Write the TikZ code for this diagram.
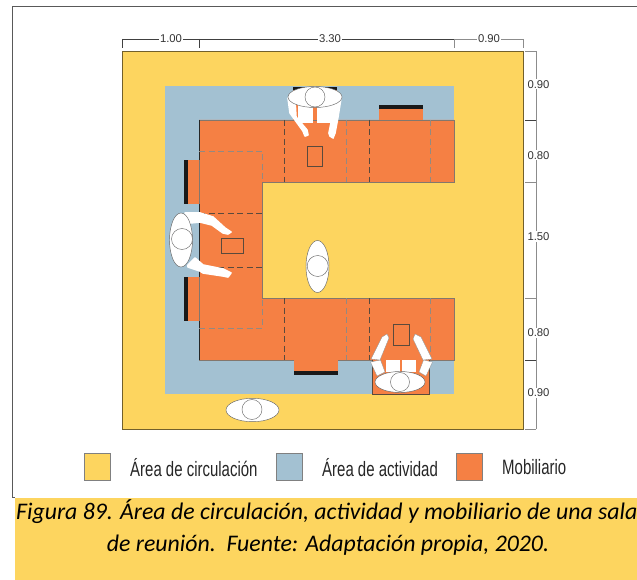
\documentclass[tikz,border=0pt]{standalone}
\usepackage{fontspec}
\setmainfont{Liberation Sans}
\newfontfamily\condfont[FakeStretch=0.72]{Liberation Sans}
\newfontfamily\capfont{Carlito}
\definecolor{circ}{HTML}{FDD55F}
\definecolor{act}{HTML}{A3C1D2}
\definecolor{mob}{HTML}{F58044}
\definecolor{edge}{HTML}{5A4A3C}
\tikzset{
  dim/.style={draw=black!75,line width=0.6pt},
  dimsoft/.style={draw=black!45,line width=0.7pt},
  dimlabel/.style={fill=white,inner sep=1pt,font=\fontsize{11.3}{13}\selectfont,text=black!80},
  divider/.style={draw=edge,line width=0.8pt,dash pattern=on 6pt off 3.5pt},
  softdiv/.style={draw=edge!65,line width=0.8pt,dash pattern=on 6pt off 3.5pt},
  tablet/.style={draw=edge,line width=0.6pt},
  blackbar/.style={fill=black!90,draw=none},
  person/.style={fill=white,draw=black!60,line width=0.45pt},
  limb/.style={fill=white,draw=white,line width=1.6pt,line join=round},
  limbline/.style={fill=white,draw=black!45,line width=0.3pt,line join=round},
  swatch/.style={draw=black!50,line width=0.6pt},
  legendtext/.style={anchor=west,inner sep=0pt,font=\condfont\fontsize{20.8}{24}\selectfont,text=black!85},
  captext/.style={inner sep=0pt,font=\capfont\itshape\fontsize{23.8}{28}\selectfont,text=black}
}
\begin{document}
\begin{tikzpicture}[x=1pt,y=-1pt]
\useasboundingbox (0,0) rectangle (637,580);
\fill[white] (0,0) rectangle (637,580);
% frame
\draw[black!65,line width=0.7pt] (637,6) -- (12,6) -- (12,497) -- (15,497);
% caption band
\fill[circ] (15,498) rectangle (637,580);
% areas
\path[fill=circ,draw=black!55!circ,line width=0.9pt] (122,51) rectangle (523,429);
\fill[act] (165,86) rectangle (454,394);
\fill[circ] (262,182) rectangle (454,298);
% furniture
\path[fill=mob,draw=edge!75,line width=0.7pt] (199,120) -- (454,120) -- (454,182) -- (262,182) -- (262,298) -- (454,298) -- (454,360) -- (199,360) -- cycle;
\draw[black!85,line width=0.7pt] (199,120) -- (199,160) (199,204) -- (199,277) (199,321) -- (199,360);
% stools
\fill[mob] (184,160) rectangle (199.4,204);
\fill[blackbar] (184,160) rectangle (188,204);
\fill[mob] (184,277) rectangle (199.4,321);
\fill[blackbar] (184,277) rectangle (188,321);
\fill[mob] (379,105) rectangle (423,120.4);
\fill[blackbar] (379,105) rectangle (423,109);
\fill[mob] (294,359.6) rectangle (338,375);
\fill[blackbar] (294,371) rectangle (338,375);
\fill[mob] (293,87) rectangle (337,120.4);
\fill[blackbar] (293,87) rectangle (337,90);
\fill[mob] (372,360) rectangle (429,394);
\draw[edge,line width=0.6pt] (372,360) -- (372,394) -- (429,394) -- (429,360);
% dividers
\draw[softdiv] (199,151) -- (262,151) -- (262,182);
\draw[divider] (199,213) -- (262,213);
\draw[divider] (199,267) -- (262,267);
\draw[softdiv] (199,328) -- (262,328) -- (262,298);
\foreach \xx/\yy in {284/120,369/120,284/298,369/298}
  \draw[divider] (\xx,\yy) -- (\xx,\yy+62);
\foreach \xx/\yy in {346/120,430/120,346/298,430/298}
  \draw[softdiv] (\xx,\yy) -- (\xx,\yy+62);
% tablets
\draw[tablet] (307,146) rectangle (322,166);
\draw[tablet] (221,238) rectangle (243,253);
\draw[tablet] (393,324) rectangle (409,345);
% top seated person
\fill[white] (298,105) rectangle (313,123);
\fill[white] (317,105) rectangle (332,123);
\path[limb] (288,98) -- (290,113) -- (303,131) -- (305,136) -- (308,135) -- (307,130) -- (296,117) -- (295,100) -- cycle;
\path[limb] (341,98) -- (338,117) -- (335,133) -- (333,138) -- (330,136) -- (329,133) -- (332,118) -- (333,100) -- cycle;
\draw[person] (315,97) ellipse [x radius=27,y radius=10.5];
\draw[person] (315,97) circle [radius=10];
% left seated person
\path[limb] (185,213) -- (200,213) -- (213,217) -- (225,228) -- (231,232) -- (228,234) -- (223,233) -- (212,225) -- (200,222) -- (190,223) -- cycle;
\path[limb] (188,265) -- (195,258) -- (203,265) -- (223,269) -- (231,273) -- (228,277) -- (223,276) -- (203,273) -- (200,271) -- (188,267) -- cycle;
\draw[person] (181,240) ellipse [x radius=11.5,y radius=27];
\draw[person] (182,239) circle [radius=10.5];
% bottom seated person
\fill[white] (386,360) rectangle (400,372);
\fill[white] (402,360) rectangle (416,372);
\path[limbline] (370.5,362) -- (377,376) -- (385,372) -- (380.5,360) -- cycle;
\path[limbline] (432.5,362) -- (426,376) -- (419,372) -- (423.5,360) -- cycle;
\path[limbline] (371,359) -- (382,337) -- (387,334) -- (389,338) -- (380,360) -- cycle;
\path[limbline] (432,359) -- (421,337) -- (415,334) -- (413,339) -- (423,360) -- cycle;
\draw[person] (400,382) ellipse [x radius=25,y radius=10.5];
\draw[person] (400,382) circle [radius=9.5];
% standing persons
\draw[person] (317.5,266.5) ellipse [x radius=11.5,y radius=26];
\draw[person] (317.7,266) circle [radius=10.5];
\draw[person] (252.5,410) ellipse [x radius=26.5,y radius=11.7];
\draw[person] (252,409.5) circle [radius=10];
% top dimensions
\coordinate (t0) at (122,39); \coordinate (t1) at (199,39);
\coordinate (t2) at (454,39); \coordinate (t3) at (523,39);
\draw[dim] (t0) -- (t2);
\draw[dimsoft] (t2) -- (t3);
\foreach \p in {t0,t1} \draw[dim] (\p) -- ++(0,9);
\foreach \p in {t2,t3} \draw[dimsoft] (\p) -- ++(0,9);
\node[dimlabel] (w1) at (171,39) {1.00};
\node[dimlabel] (w2) at (330,39) {3.30};
\node[dimlabel] (w3) at (489,39) {0.90};
% right dimensions
\coordinate (r0) at (536,51); \coordinate (r1) at (536,120); \coordinate (r2) at (536,182);
\coordinate (r3) at (536,298); \coordinate (r4) at (536,360); \coordinate (r5) at (536,429);
\draw[dimsoft] (r0) -- (r5);
\foreach \p in {r0,r2,r3,r5} \draw[dimsoft] (\p) -- ++(-11,0);
\foreach \p in {r1,r4} \draw[dim] (\p) -- ++(-11,0);
\node[dimlabel] (h1) at (538.5,84.5) {0.90};
\node[dimlabel] (h2) at (538.5,155.5) {0.80};
\node[dimlabel] (h3) at (538.5,236.5) {1.50};
\node[dimlabel] (h4) at (538.5,333) {0.80};
\node[dimlabel] (h5) at (538.5,392.5) {0.90};
% legend
\path[swatch,fill=circ] (84,453) rectangle (110,480);
\path[swatch,fill=act] (276,453) rectangle (302,480);
\path[swatch,fill=mob] (456,453) rectangle (482,480);
\node[legendtext] (l1) at (130,468) {Área de circulación};
\node[legendtext] (l2) at (322,468) {Área de actividad};
\node[legendtext] (l3) at (502,467) {Mobiliario};
% caption
\node[captext,anchor=base west] (c1) at (16,519.5) {Figura 89. Área de circulación, actividad y mobiliario de una sala};
\node[captext,anchor=base] (c2) at (328,551) {de reunión.\ \ Fuente: Adaptación propia, 2020.};
\end{tikzpicture}
\end{document}
